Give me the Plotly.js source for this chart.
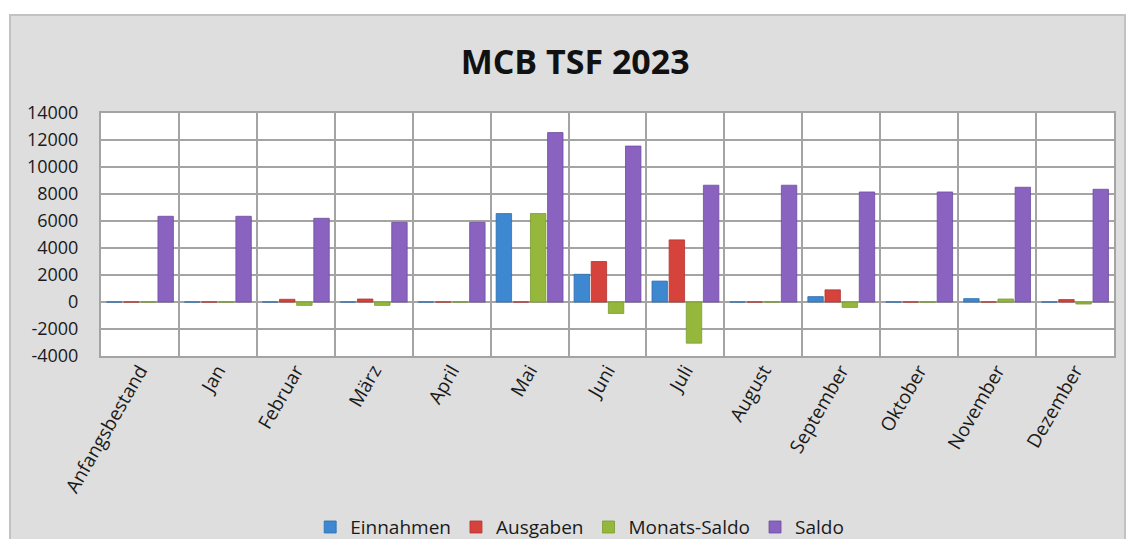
<!DOCTYPE html>
<html>
<head>
<meta charset="utf-8">
<script src="https://cdn.plot.ly/plotly-3.0.1.min.js"></script>
<style>
  html, body { margin: 0; padding: 0; background: #ffffff; }
  #frame { position: absolute; left: 9px; top: 14px; width: 1117px; height: 540px;
           background: #dedede; border: 2px solid #c2c2c2; box-sizing: border-box; }
  #chart { position: absolute; left: 0; top: 0; width: 1130px; height: 539px; }
</style>
</head>
<body>
<div id="frame"></div>
<div id="chart"></div>
<script>
const categories = ["Anfangsbestand", "Jan", "Februar", "März", "April", "Mai", "Juni", "Juli", "August", "September", "Oktober", "November", "Dezember"];
const einnahmen   = [0, 0, 0, 0, 0, 6550, 2050, 1550, 0, 400, 0, 250, 0];
const ausgaben    = [0, 0, 200, 220, 0, 0, 3000, 4600, 0, 900, 0, 0, 180];
const monatsSaldo = [0, 0, -250, -250, 0, 6550, -850, -3050, 0, -400, 0, 220, -150];
const saldo       = [6350, 6350, 6200, 5900, 5900, 12550, 11550, 8650, 8650, 8150, 8150, 8500, 8350];
const yTickVals   = [-4000, -2000, 0, 2000, 4000, 6000, 8000, 10000, 12000, 14000];
const yTickText   = ["-4000", "-2000", "0", "2000", "4000", "6000", "8000", "10000", "12000", "14000"];

const font = "'Open Sans', 'DejaVu Sans', sans-serif";

function bar(name, y, color, line) {
  return { type: 'bar', name: name, x: categories, y: y,
           marker: { color: color, line: { color: line, width: 0.8 } },
           hoverinfo: 'x+y+name' };
}

const data = [
  bar('Einnahmen', einnahmen, '#3d88d0', '#2f6fae'),
  bar('Ausgaben', ausgaben, '#d6433d', '#b03531'),
  bar('Monats-Saldo', monatsSaldo, '#95b83c', '#7a9a2e'),
  bar('Saldo', saldo, '#8a63c0', '#6e4ca0')
];

const layout = {
  width: 1130, height: 539,
  paper_bgcolor: 'rgba(0,0,0,0)',
  plot_bgcolor: '#ffffff',
  margin: { l: 101, r: 16, t: 113, b: 183 },
  barmode: 'group',
  bargap: 0.12,
  bargroupgap: 0.1,
  title: { text: '<b>MCB TSF 2023</b>', x: 0.509, xanchor: 'center', y: 0.885, yref: 'container', yanchor: 'middle',
           font: { family: font, size: 34, color: '#111111' } },
  xaxis: {
    type: 'category',
    tickson: 'boundaries',
    showgrid: true, gridcolor: '#a4a4a4', gridwidth: 2,
    showline: true, linecolor: '#a4a4a4', linewidth: 2, mirror: true,
    ticks: '', tickangle: -60, ticklabelstandoff: -6,
    tickfont: { family: font, size: 19, color: '#1a1a1a' },
    automargin: false
  },
  yaxis: {
    range: [-4000, 14000],
    tickvals: yTickVals, ticktext: yTickText,
    showgrid: true, gridcolor: '#a4a4a4', gridwidth: 2,
    zeroline: false,
    showline: true, linecolor: '#a4a4a4', linewidth: 2, mirror: true,
    ticks: '', ticklabelstandoff: 17,
    tickfont: { family: font, size: 18, color: '#1a1a1a' },
    automargin: false
  },
  showlegend: true,
  legend: { orientation: 'h', x: 0.513, xref: 'container', xanchor: 'center', y: 0.022, yref: 'container', yanchor: 'middle',
            font: { family: font, size: 19, color: '#1a1a1a' },
            bgcolor: 'rgba(0,0,0,0)', itemwidth: 30 }
};

Plotly.newPlot('chart', data, layout, { displayModeBar: false, staticPlot: true });
</script>
</body>
</html>
